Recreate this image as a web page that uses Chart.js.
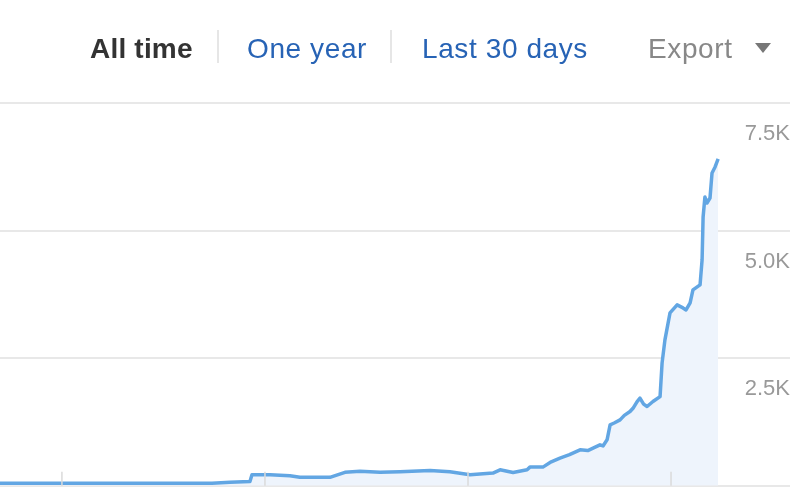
<!DOCTYPE html>
<html>
<head>
<meta charset="utf-8">
<script src="https://cdn.jsdelivr.net/npm/chart.js"></script>
<style>
  html, body { margin: 0; padding: 0; background: #fff; }
  #wrap { position: relative; width: 799px; height: 499px; overflow: hidden; font-family: "Liberation Sans", Arial, sans-serif; }
  #wrap canvas { position: absolute; left: 0; top: 0; }
  .tab { position: absolute; top: 35px; font-size: 28px; line-height: 28px; letter-spacing: 0.6px; white-space: nowrap; }
  .sep { position: absolute; top: 30px; width: 1.5px; height: 33px; background: #e6e6e6; }
  .caret { position: absolute; left: 755px; top: 43px; width: 0; height: 0;
    border-left: 8.5px solid transparent; border-right: 8.5px solid transparent; border-top: 10px solid #777; }
</style>
</head>
<body>
<div id="wrap">
  <canvas id="myChart" width="799" height="499"></canvas>
  <div class="tab" style="left:90px;font-weight:bold;color:#333;letter-spacing:0.2px">All time</div>
  <div class="sep" style="left:217px"></div>
  <div class="tab" style="left:247px;color:#2763b5">One year</div>
  <div class="sep" style="left:390px"></div>
  <div class="tab" style="left:422px;color:#2763b5">Last 30 days</div>
  <div class="tab" style="left:648px;color:#888">Export</div>
  <div class="caret"></div>
</div>
<script>
// dates as decimal years
const years = [
  2015.695, 2016.739, 2016.828, 2016.926, 2016.936, 2017.025, 2017.123, 2017.172,
  2017.320, 2017.394, 2017.468, 2017.567, 2017.665, 2017.813, 2017.911, 2018.010,
  2018.123, 2018.158, 2018.222, 2018.291, 2018.305, 2018.369, 2018.410, 2018.453,
  2018.500, 2018.552, 2018.590, 2018.616, 2018.650, 2018.665, 2018.685, 2018.700,
  2018.720, 2018.749, 2018.770, 2018.798, 2018.815, 2018.833, 2018.847, 2018.865,
  2018.882, 2018.911, 2018.946, 2018.956, 2018.970, 2018.995, 2019.030, 2019.059,
  2019.074, 2019.094, 2019.108, 2019.143, 2019.153, 2019.158, 2019.167, 2019.177,
  2019.192, 2019.202, 2019.217, 2019.232
];
const domains = [
  50, 50, 69, 84, 215, 215, 196, 166,
  166, 264, 284, 264, 274, 300, 274, 215,
  249, 313, 260, 313, 366, 366, 470, 542,
  610, 705, 690, 738, 803, 780, 901, 1194,
  1230, 1292, 1380, 1455, 1530, 1651, 1717, 1600,
  1553, 1651, 1748, 2408, 2859, 3387, 3544, 3485,
  3446, 3583, 3838, 3936, 4425, 5267, 5659, 5541,
  5639, 6129, 6247, 6403
];
const yearTicks = [2016, 2017, 2018, 2019];
const yTicks = [0, 2500, 5000, 7500];

// little marks at each year on the baseline
const yearMarks = {
  id: "yearMarks",
  afterDatasetsDraw(chart) {
    const ctx = chart.ctx;
    const xs = chart.scales.x;
    const bottom = chart.chartArea.bottom;
    ctx.save();
    ctx.strokeStyle = "#dadada";
    ctx.lineWidth = 1.5;
    yearTicks.forEach(function (y) {
      const px = xs.getPixelForValue(y);
      ctx.beginPath();
      ctx.moveTo(px, bottom);
      ctx.lineTo(px, bottom - 14);
      ctx.stroke();
    });
    ctx.restore();
  }
};

const points = years.map(function (y, i) { return { x: y, y: domains[i] }; });

var ctx = document.getElementById("myChart").getContext("2d");
var chart = new Chart(ctx, {
  type: "line",
  data: {
    datasets: [
      {
        label: "Referring domains",
        data: points,
        borderColor: "#62a6e3",
        backgroundColor: "#eef4fc",
        borderWidth: 3.5,
        fill: "origin",
        pointRadius: 0,
        tension: 0,
        borderJoinStyle: "round",
      },
    ],
  },
  options: {
    responsive: false,
    animation: false,
    layout: { padding: { top: 103, bottom: 13, left: 0, right: 9 } },
    plugins: { legend: { display: false }, tooltip: { enabled: false } },
    scales: {
      x: {
        type: "linear",
        min: 2015.695,
        max: 2019.586,
        display: false,
      },
      y: {
        position: "right",
        min: 0,
        max: 7500,
        border: { display: false },
        grid: { color: "#e8e8e8", lineWidth: 2, drawTicks: false },
        afterBuildTicks(scale) {
          scale.ticks = yTicks.map(function (v) { return { value: v }; });
        },
        ticks: {
          mirror: true,
          padding: 0,
          labelOffset: 31,
          color: "#999",
          font: { family: "Liberation Sans", size: 22 },
          callback(v) { return v === 0 ? "" : (v / 1000).toFixed(1) + "K"; },
        },
      },
    },
  },
  plugins: [yearMarks],
});
</script>
</body>
</html>
